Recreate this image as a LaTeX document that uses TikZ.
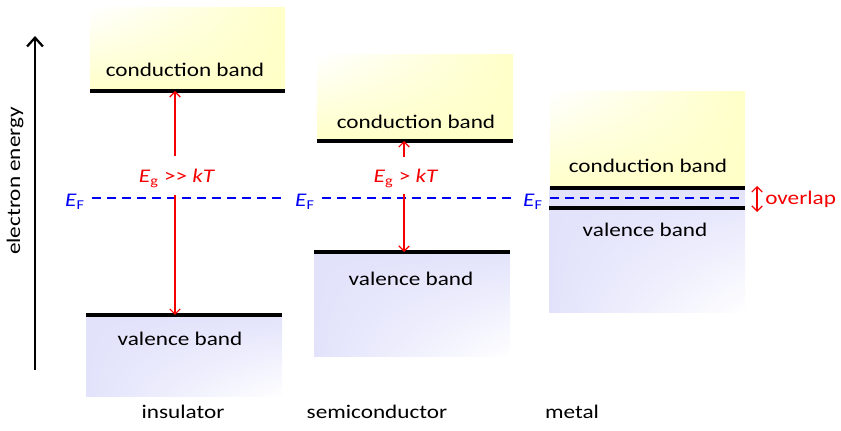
\documentclass[tikz,border=0pt]{standalone}
\usepackage{fontspec}
\setmainfont{Carlito}[FakeStretch=1.2]
\usepackage{tikz}
\usetikzlibrary{arrows.meta,positioning,shadings}
\definecolor{condyellow}{RGB}{255,255,200}
\definecolor{valblue}{RGB}{226,227,251}
\definecolor{fermiblue}{RGB}{0,0,245}
\definecolor{gapred}{RGB}{245,0,0}
\tikzset{
    bandline/.style={line width=2pt, black},
    % shading of the two kinds of band
    condband/.style={upper left=white, upper right=condyellow, lower left=condyellow, lower right=condyellow},
    valband/.style={upper left=valblue, upper right=valblue, lower left=valblue, lower right=white},
    gaparrow/.style={
        line width=0.7pt,
        gapred,
        ->,
        >={Straight Barb[length=3pt, width=6pt]}
    },
    axisarrow/.style={
        line width=1.3pt,
        black,
        ->,
        >={Straight Barb[length=5pt, width=9pt]}
    },
    fermiline/.style={line width=1.5pt, fermiblue, dash pattern=on 0.18cm off 0.12cm},
    fermilabel/.style={fermiblue, anchor=base, inner xsep=4pt, inner ysep=0pt},
    gaplabel/.style={gapred, anchor=base, inner sep=0pt},
    bandtext/.style={anchor=base, inner sep=0pt}
}

\begin{document}
\begin{tikzpicture}[x=0.02cm, y=-0.02cm, font=\fontsize{11}{13}\selectfont]
        \useasboundingbox (0,0) rectangle (841,431);

        % axis
        \coordinate (axisBot) at (35,370);
        \coordinate (axisTop) at (35,36);
        \draw[axisarrow] (axisBot) -- (axisTop);
        \node[rotate=90] (energy) at (15,181) {electron energy};

        % insulator
        \shade[condband] (90,8) rectangle (285,91);
        \shade[valband] (86,315) rectangle (282,397);
        \draw[bandline] (90,91) -- (285,91);
        \draw[bandline] (86,315) -- (282,315);
        \coordinate (insC) at (175,91);
        \coordinate (insV) at (175,315);
        \node[bandtext] (insCtext) at (185,77) {conduction band};
        \node[bandtext] (insVtext) at (180,346) {valence band};

        % semiconductor
        \shade[condband] (317,55) rectangle (513,141);
        \shade[valband] (314,252) rectangle (510,357);
        \draw[bandline] (317,141) -- (513,141);
        \draw[bandline] (314,252) -- (510,252);
        \coordinate (semC) at (404,141);
        \coordinate (semV) at (404,252);
        \node[bandtext] (semCtext) at (416,129) {conduction band};
        \node[bandtext] (semVtext) at (411,286) {valence band};

        % metal
        \shade[condband] (550,92) rectangle (745,188);
        \shade[valband] (549,188) rectangle (745,313);
        \draw[bandline] (550,188) -- (745,188);
        \draw[bandline] (549,208) -- (745,208);
        \node[bandtext] (metCtext) at (648,173) {conduction band};
        \node[bandtext] (metVtext) at (645,237) {valence band};

        % Fermi level
        \node[fermilabel] (insEF) at (75,207) {\textit{E}\textsubscript{F}};
        \node[fermilabel] (semEF) at (305,207) {\textit{E}\textsubscript{F}};
        \node[fermilabel] (metEF) at (533,207) {\textit{E}\textsubscript{F}};
        \coordinate (insEFend) at (285,198);
        \coordinate (semEFend) at (514,198);
        \coordinate (metEFend) at (743,198);
        \draw[fermiline] (insEFend -| insEF.east) -- (insEFend);
        \draw[fermiline] (semEFend -| semEF.east) -- (semEFend);
        \draw[fermiline] (metEFend -| metEF.east) -- (metEFend);

        % gaps
        \node[gaplabel] (insGap) at (177,183) {\textit{E}\textsubscript{g} >{}> \textit{kT}};
        \node[gaplabel] (semGap) at (406,183) {\textit{E}\textsubscript{g} > \textit{kT}};
        \coordinate (insGapTop) at (175,156);
        \coordinate (insGapBot) at (175,195);
        \coordinate (semGapTop) at (404,157);
        \coordinate (semGapBot) at (404,194);
        \draw[gaparrow] (insGapTop) -- (insC);
        \draw[gaparrow] (insGapBot) -- (insV);
        \draw[gaparrow] (semGapTop) -- (semC);
        \draw[gaparrow] (semGapBot) -- (semV);

        % overlap
        \coordinate (metTop) at (757,186);
        \coordinate (metBot) at (757,212);
        \draw[gaparrow, <->] (metTop) -- (metBot);
        \node[gapred, anchor=base west, inner sep=0pt] (overlap) at (765,205) {overlap};

        % materials
        \node[bandtext] (insName) at (183,419) {insulator};
        \node[bandtext] (semName) at (377,419) {semiconductor};
        \node[bandtext] (metName) at (572,419) {metal};
\end{tikzpicture}
\end{document}
